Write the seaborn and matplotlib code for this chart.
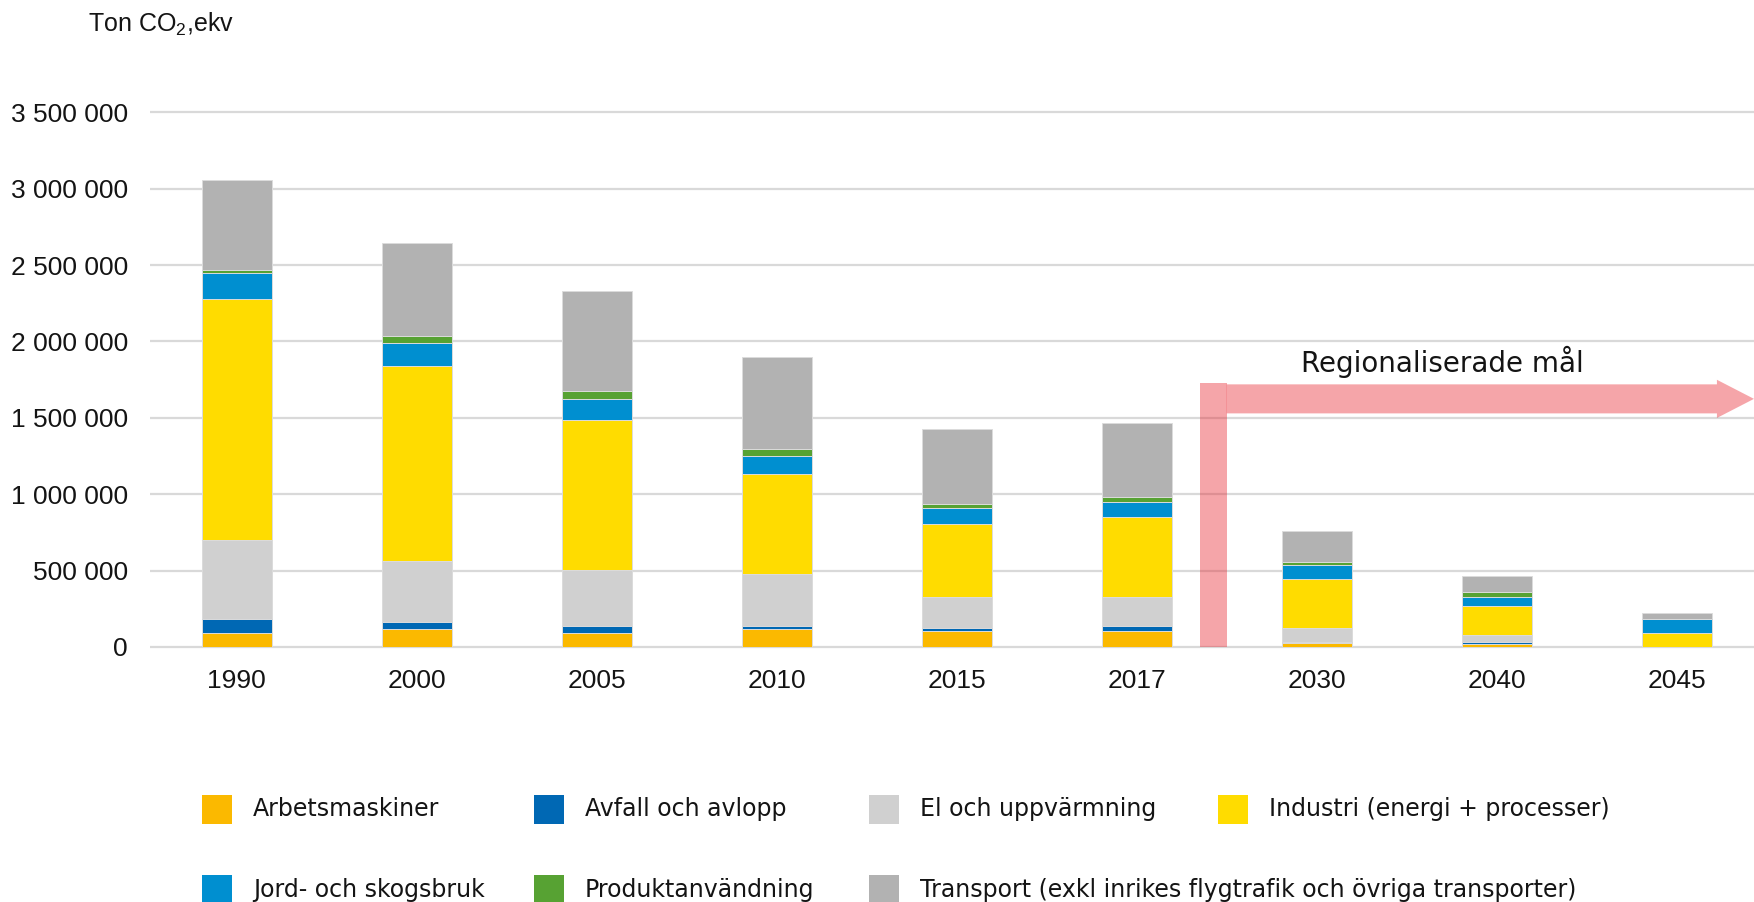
import numpy as np
import pandas as pd
import matplotlib
matplotlib.use('Agg')
import matplotlib.pyplot as plt
import seaborn as sns
from matplotlib.patches import Rectangle, FancyArrow

# data (ton CO2-ekv)
years = ['1990', '2000', '2005', '2010', '2015', '2017', '2030', '2040', '2045']
arbetsmaskiner = [90000, 118000, 90000, 120000, 105000, 105000, 24000, 22000, 0]
avfall = [91000, 48000, 47000, 17000, 17000, 32000, 11000, 11000, 0]
el_uppv = [519000, 399000, 367000, 341000, 205000, 190000, 87000, 44000, 0]
industri = [1576000, 1276000, 982000, 652000, 478000, 522000, 323000, 191000, 90000]
jord_skog = [174000, 151000, 135000, 120000, 103000, 102000, 92000, 61000, 91000]
produkt = [18000, 44000, 57000, 44000, 28000, 31000, 17000, 29000, 0]
transport = [589000, 607000, 654000, 606000, 489000, 486000, 205000, 105000, 44000]

labels = ['Arbetsmaskiner', 'Avfall och avlopp', 'El och uppvärmning',
          'Industri (energi + processer)', 'Jord- och skogsbruk',
          'Produktanvändning',
          'Transport (exkl inrikes flygtrafik och övriga transporter)']
colors = ['#FBB900', '#0068B4', '#D0D0D0', '#FFDC00', '#008FD0', '#57A233', '#B2B2B2']
ticks = [0, 500000, 1000000, 1500000, 2000000, 2500000, 3000000, 3500000]
tick_labels = ['0', '500 000', '1 000 000', '1 500 000', '2 000 000',
               '2 500 000', '3 000 000', '3 500 000']

# arrow marking the regional targets
target_x = 5.35
target_top = 1726000
arrow_y = 1624000
arrow_text = 'Regionaliserade mål'

sns.set_style('white')
plt.rcParams['font.family'] = ['Liberation Sans', 'DejaVu Sans']
plt.rcParams['mathtext.default'] = 'regular'
txt = '#141414'

df = pd.DataFrame({'year': years})
series = [arbetsmaskiner, avfall, el_uppv, industri, jord_skog, produkt, transport]
cum = np.cumsum(np.array(series), axis=0)

fig = plt.figure(figsize=(17.54, 9.02), dpi=100)
ax = fig.add_axes([150 / 1754, 0.2802, 1 - 150 / 1754, 0.884 - 0.2802])

# stacked bars: draw cumulative totals from top layer down
for i in range(len(series) - 1, -1, -1):
    df['v'] = cum[i]
    sns.barplot(data=df, x='year', y='v', color=colors[i], width=0.39,
                edgecolor='#dcdcdc', linewidth=0.7, saturation=1, ax=ax, zorder=2)

ax.set_xlim(-0.482, 8.43)
ax.set_ylim(-15000, 3550000)
ax.set_yticks(ticks)
ax.set_yticklabels(tick_labels)
ax.yaxis.grid(True, color='#d9d9d9', linewidth=1.6)
ax.set_axisbelow(True)
ax.set_xlabel('')
ax.set_ylabel('')
for s in ax.spines.values():
    s.set_visible(False)
ax.tick_params(axis='y', length=0, pad=16, labelsize=19, labelcolor=txt)
ax.tick_params(axis='x', length=0, pad=14, labelsize=19, labelcolor=txt)

# red target marker
ax.add_patch(Rectangle((target_x, 0), 0.15, target_top, color='#E8202A',
                       alpha=0.4, lw=0, zorder=3))
ax.add_patch(FancyArrow(target_x + 0.15, arrow_y, 8.43 - target_x - 0.15, 0,
                        width=190000, head_width=250000, head_length=0.206,
                        length_includes_head=True, color='#E8202A', alpha=0.4,
                        lw=0, zorder=3, clip_on=False))
ax.text(6.70, 1866000, arrow_text, ha='center', va='center', fontsize=20,
        color=txt, family='DejaVu Sans')

fig.text(88 / 1754, 1 - 24 / 902, 'Ton CO$_2$,ekv', fontsize=18, color=txt,
         ha='left', va='center')

# legend laid out as in the source
col_x = [202, 534, 869, 1218]
row_y = [809, 890]
order = [(0, 0), (0, 1), (0, 2), (0, 3), (1, 0), (1, 1), (1, 2)]
for (r, c), lab, col in zip(order, labels, colors):
    x0 = col_x[c]
    y0 = row_y[r]
    fig.patches.append(Rectangle((x0 / 1754, 1 - (y0 + 14.5) / 902), 30 / 1754, 29 / 902,
                                 transform=fig.transFigure, color=col, lw=0))
    fig.text((x0 + 51) / 1754, 1 - y0 / 902, lab, fontsize=17, color=txt,
             ha='left', va='center', family='DejaVu Sans')

fig.savefig('out.png', dpi=100)
